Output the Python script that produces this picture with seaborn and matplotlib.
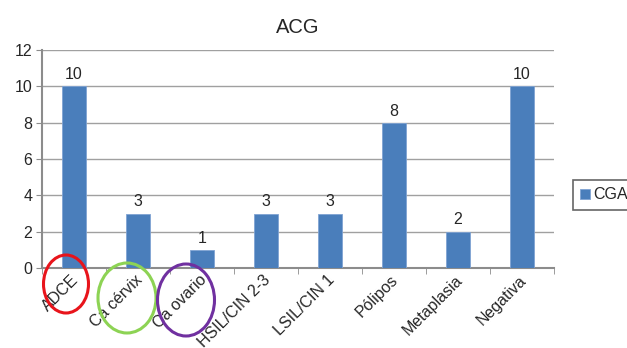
import matplotlib
matplotlib.use("Agg")
import matplotlib.pyplot as plt
import matplotlib.transforms as mtransforms
import seaborn as sns
import pandas as pd
import numpy as np
from matplotlib.patches import Ellipse

categories = ["ADCE", "Ca cérvix", "Ca ovario", "HSIL/CIN 2-3", "LSIL/CIN 1",
              "Pólipos", "Metaplasia", "Negativa"]
values = [10, 3, 1, 3, 3, 8, 2, 10]
series_name = "CGA"
title = "ACG"
yticks = [0, 2, 4, 6, 8, 10, 12]

sns.set_style("white")
plt.rcParams['font.family'] = ['Liberation Sans', 'DejaVu Sans']

df = pd.DataFrame({"cat": categories, "val": values, "serie": series_name})

fig = plt.figure(figsize=(6.27, 3.48), dpi=100)
ax = fig.add_axes([42/627, 1-268/348, (554-42)/627, (268-50)/348])

sns.barplot(data=df, x="cat", y="val", hue="serie", palette=["#4A7EBB"],
            saturation=1, width=0.39, ax=ax, dodge=False, zorder=3,
            edgecolor="#7FA3D3", linewidth=0.6)

for c in ax.containers:
    ax.bar_label(c, fontsize=11.5, padding=3)

ax.set_ylim(0, 12)
ax.set_xlim(-0.5, len(categories)-0.5)
ax.set_yticks(yticks)
ax.yaxis.grid(True, color="#A0A0A0", linewidth=1.0, zorder=0)
ax.set_axisbelow(True)
ax.set_xlabel("")
ax.set_ylabel("")
ax.set_title(title, fontsize=14.5, pad=12)

for s in ["top", "right"]:
    ax.spines[s].set_visible(False)
for s in ["left", "bottom"]:
    ax.spines[s].set_color("#8C8C8C")
    ax.spines[s].set_linewidth(1.5)

ax.tick_params(axis="y", labelsize=11.5, length=4, color="#8C8C8C", direction="out", left=True, pad=3)
ax.set_xticks(range(len(categories)))
ax.set_xticklabels(categories, rotation=45, ha="right", va="center",
                   rotation_mode="anchor", fontsize=11.5)
ax.tick_params(axis="x", length=0, pad=7)
offset = mtransforms.ScaledTranslation(2/100, 0, fig.dpi_scale_trans)
for lab in ax.get_xticklabels():
    lab.set_transform(lab.get_transform() + offset)
ax.set_xticks(np.arange(-0.5, len(categories)), minor=True)
ax.tick_params(axis="x", which="minor", length=4, color="#8C8C8C", direction="out", bottom=True)

leg = ax.legend(loc="center left", bbox_to_anchor=(565/627, 1-195/348),
                bbox_transform=fig.transFigure, frameon=True, fontsize=11.5,
                handlelength=0.6, handleheight=0.6, handletextpad=0.2,
                borderpad=0.45, fancybox=False)
leg.get_frame().set_edgecolor("#404040")
leg.get_frame().set_linewidth(1.2)

def ell(cx, cy, w, h, col):
    e = Ellipse((cx/627, 1-cy/348), w/627, h/348, transform=fig.transFigure,
                fill=False, edgecolor=col, linewidth=2.2)
    fig.patches.append(e)

ell(66, 284, 45, 58, "#E8141B")
ell(127, 298, 58, 70, "#8DD354")
ell(186, 300, 57, 72, "#7030A0")

fig.savefig("out.png", dpi=100)
